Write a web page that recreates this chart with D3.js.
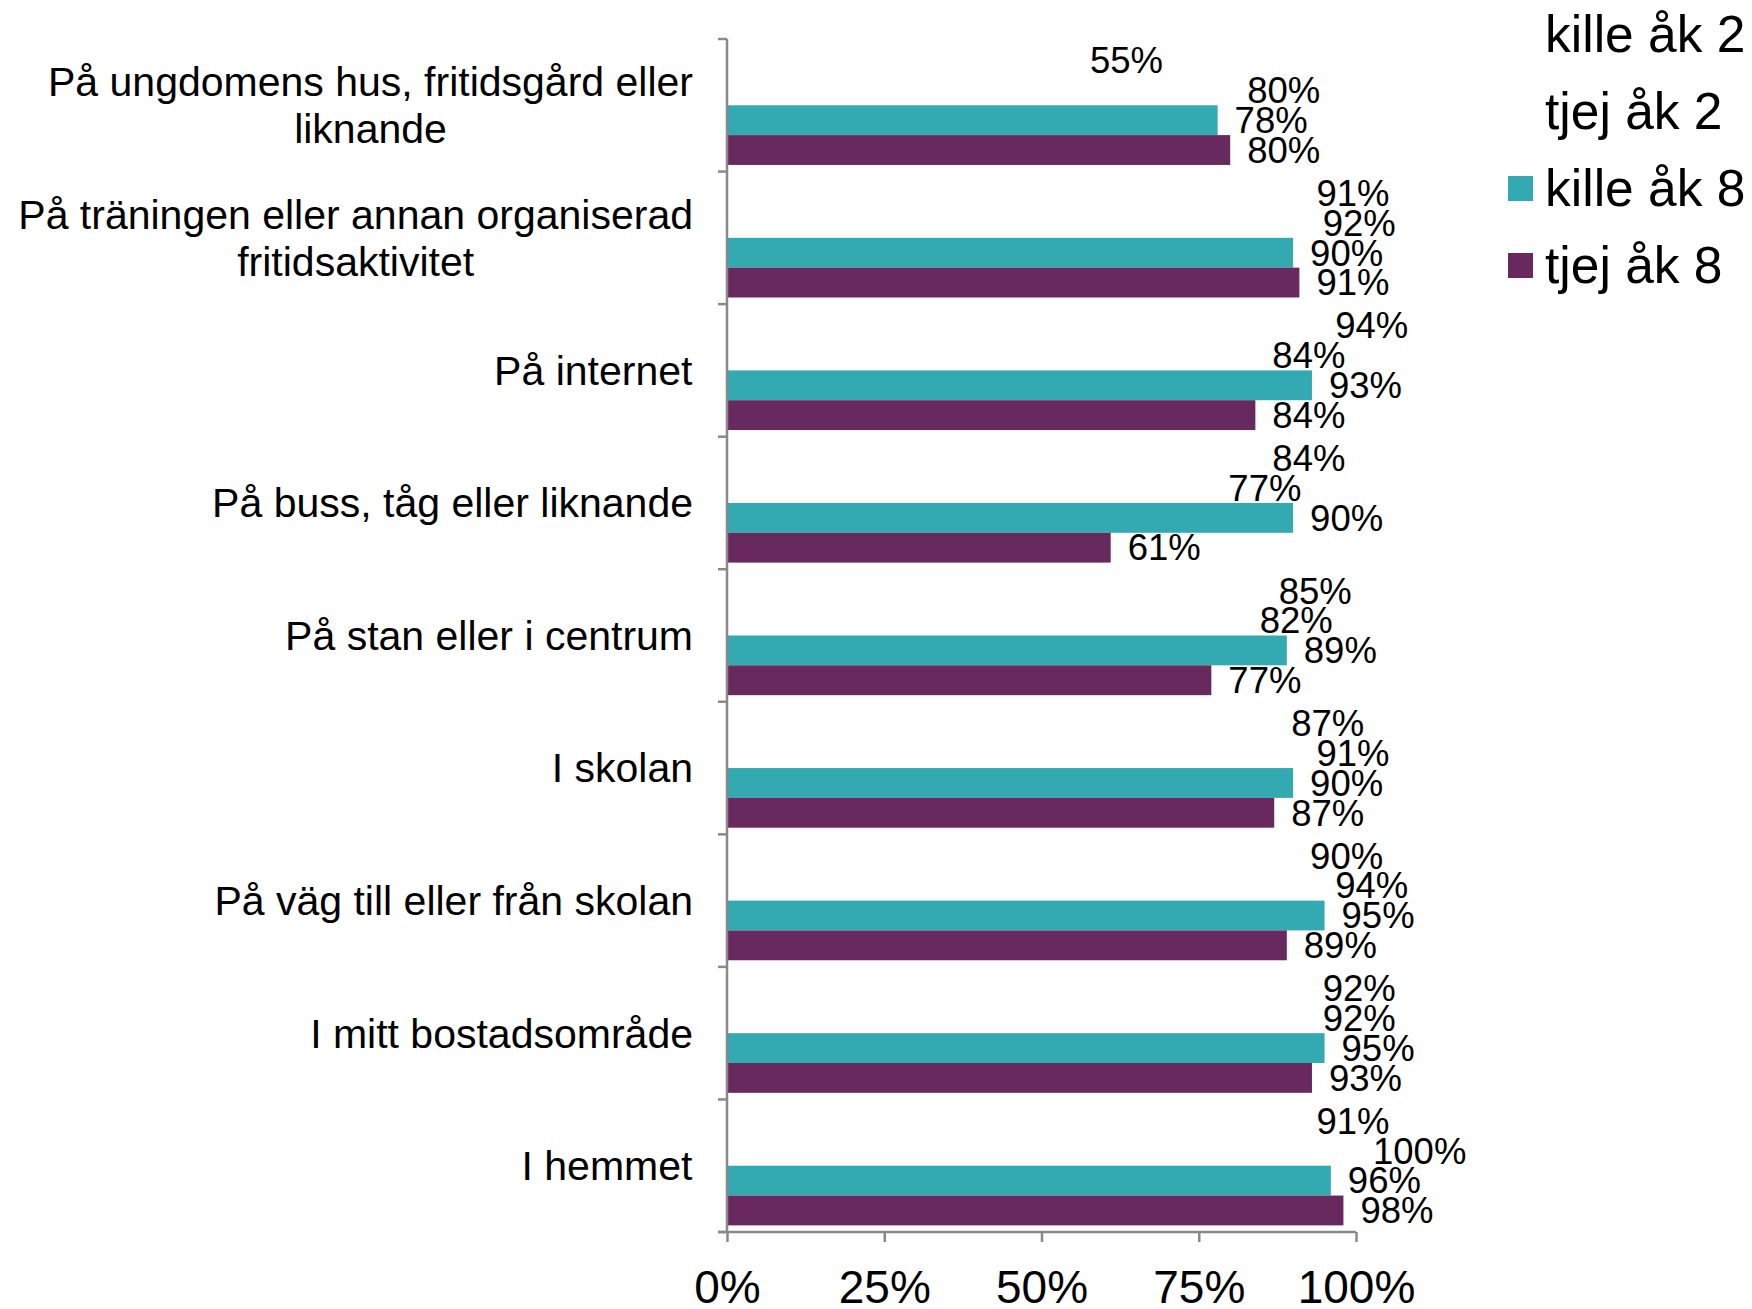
<!DOCTYPE html>
<html>
<head>
<meta charset="utf-8">
<script src="https://cdn.jsdelivr.net/npm/d3@7"></script>
<style>
  html, body { margin: 0; padding: 0; background: #fff; }
  svg { display: block; font-family: "Liberation Sans", Arial, sans-serif; }
</style>
</head>
<body>
<div id="chart"></div>
<script>
// Categories (top to bottom), line breaks marked with \n
const categories = [
    'På ungdomens hus, fritidsgård eller\nliknande',
    'På träningen eller annan organiserad\nfritidsaktivitet',
    'På internet',
    'På buss, tåg eller liknande',
    'På stan eller i centrum',
    'I skolan',
    'På väg till eller från skolan',
    'I mitt bostadsområde',
    'I hemmet'
];

const seriesNames = ['kille åk 2', 'tjej åk 2', 'kille åk 8', 'tjej åk 8'];
const seriesColors = ['none', 'none', '#33a9b1', '#68295e'];

// values in percent, one array per series (same order as categories)
const killeAk2 = [55, 91, 94, 84, 85, 87, 90, 92, 91];
const tjejAk2  = [80, 92, 84, 77, 82, 91, 94, 92, 100];
const killeAk8 = [78, 90, 93, 90, 89, 90, 95, 95, 96];
const tjejAk8  = [80, 91, 84, 61, 77, 87, 89, 93, 98];

const xTicks = [0, 0.25, 0.5, 0.75, 1];

// Build flat table for drawing
const seriesValues = [killeAk2, tjejAk2, killeAk8, tjejAk8];
const rows = [];
categories.forEach((c, i) => {
    seriesNames.forEach((s, j) => {
        rows.push({ category: c, series: s, value: seriesValues[j][i] / 100, color: seriesColors[j] });
    });
});

const width = 1752, height = 1309;
const plot = { left: 727, right: 1356, top: 39, bottom: 1232 };
const axisColor = '#898989';

const svg = d3.select('#chart')
    .append('svg')
    .attr('width', width)
    .attr('height', height);

const x = d3.scaleLinear()
    .domain([0, 1])
    .range([plot.left, plot.right]);

const y0 = d3.scaleBand()
    .domain(categories)
    .range([plot.top, plot.bottom])
    .padding(0);

const y1 = d3.scaleBand()
    .domain(seriesNames)
    .range([0, y0.bandwidth()])
    .paddingInner(0)
    .paddingOuter(0.222);

// Bars
svg.append('g')
    .selectAll('rect')
    .data(rows)
    .join('rect')
    .attr('x', x(0))
    .attr('y', d => y0(d.category) + y1(d.series))
    .attr('width', d => x(d.value) - x(0))
    .attr('height', y1.bandwidth())
    .attr('fill', d => d.color);

// Value labels
svg.append('g')
    .selectAll('text')
    .data(rows)
    .join('text')
    .attr('x', d => x(d.value) + 17)
    .attr('y', d => y0(d.category) + y1(d.series) + y1.bandwidth() / 2)
    .attr('dy', '0.35em')
    .style('font-size', '36.5px')
    .style('fill', '#000')
    .text(d => Math.round(d.value * 100) + '%');

// Left axis: line and ticks at category boundaries
const leftAxis = svg.append('g');
leftAxis.append('line')
    .attr('x1', plot.left).attr('x2', plot.left)
    .attr('y1', plot.top).attr('y2', plot.bottom)
    .attr('stroke', axisColor).attr('stroke-width', 2.5);

const boundaries = categories.map(c => y0(c)).concat([plot.bottom]);
leftAxis.selectAll('.tick')
    .data(boundaries)
    .join('line')
    .attr('class', 'tick')
    .attr('x1', plot.left - 9).attr('x2', plot.left)
    .attr('y1', d => d).attr('y2', d => d)
    .attr('stroke', axisColor).attr('stroke-width', 2.5);

// Category labels (block right-aligned, lines centered)
const catLabels = svg.append('g');
categories.forEach(c => {
    const lines = c.split('\n');
    const cy = y0(c) + y0.bandwidth() / 2;
    const lineH = 47;
    const t = catLabels.append('text')
        .style('font-size', '41px')
        .style('fill', '#000')
        .attr('text-anchor', 'middle');
    lines.forEach((ln, k) => {
        t.append('tspan')
            .attr('x', 0)
            .attr('y', cy + (k - (lines.length - 1) / 2) * lineH)
            .attr('dy', '0.35em')
            .text(ln);
    });
    // shift block so its right edge sits at 693
    const bb = t.node().getBBox();
    t.attr('transform', `translate(${693 - (bb.x + bb.width)},0)`);
});

// Bottom axis
const xAxis = d3.axisBottom(x)
    .tickValues(xTicks)
    .tickFormat(d3.format('.0%'))
    .tickSize(10)
    .tickSizeOuter(0);

const gx = svg.append('g')
    .attr('transform', `translate(0,${plot.bottom})`)
    .call(xAxis);

gx.select('.domain').remove();
gx.append('line')
    .attr('x1', plot.left - 9).attr('x2', plot.right)
    .attr('y1', 0).attr('y2', 0)
    .attr('stroke', axisColor).attr('stroke-width', 2.5);
gx.selectAll('.tick line')
    .attr('stroke', axisColor)
    .attr('stroke-width', 2.5);
gx.selectAll('.tick text')
    .attr('y', 71)
    .attr('dy', 0)
    .style('font-size', '46px')
    .style('font-family', '"Liberation Sans", Arial, sans-serif')
    .style('fill', '#000');

// Legend
const legend = svg.append('g')
    .attr('transform', 'translate(1508, 34)');

const legendItems = legend.selectAll('.legend-item')
    .data(seriesNames)
    .join('g')
    .attr('class', 'legend-item')
    .attr('transform', (d, i) => `translate(0, ${i * 77})`);

legendItems.append('rect')
    .attr('x', 0)
    .attr('y', -12)
    .attr('width', 25)
    .attr('height', 25)
    .attr('fill', (d, i) => seriesColors[i]);

legendItems.append('text')
    .attr('x', 37)
    .attr('y', 0)
    .attr('dy', '0.35em')
    .style('font-size', '51.5px')
    .style('fill', '#000')
    .text(d => d);
</script>
</body>
</html>
